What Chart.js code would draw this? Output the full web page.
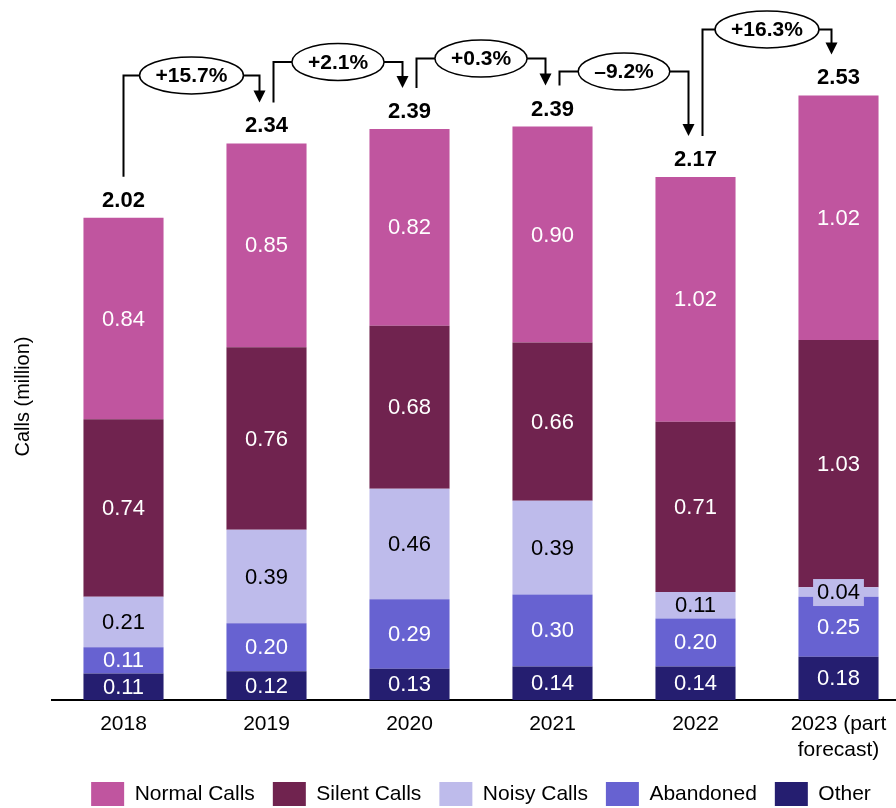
<!DOCTYPE html>
<html>
<head>
<meta charset="utf-8">
<script src="https://cdn.jsdelivr.net/npm/chart.js@4.4.0/dist/chart.umd.min.js"></script>
<style>
  html, body { margin: 0; padding: 0; background: #fff; overflow: hidden; }
  #callsChart { display: block; }
</style>
</head>
<body>
<canvas id="callsChart" width="910" height="816"></canvas>
<script>
// data
const years = ['2018', '2019', '2020', '2021', '2022', ['2023 (part', 'forecast)']];
const otherCalls = [0.11, 0.12, 0.13, 0.14, 0.14, 0.18];
const abandonedCalls = [0.11, 0.20, 0.29, 0.30, 0.20, 0.25];
const noisyCalls = [0.21, 0.39, 0.46, 0.39, 0.11, 0.04];
const silentCalls = [0.74, 0.76, 0.68, 0.66, 0.71, 1.03];
const normalCalls = [0.84, 0.85, 0.82, 0.90, 1.02, 1.02];
const totals = [2.02, 2.34, 2.39, 2.39, 2.17, 2.53];
const changes = ['+15.7%', '+2.1%', '+0.3%', '\u20139.2%', '+16.3%'];

const FONT = '"Liberation Sans", Arial, sans-serif';

// value in the middle of each segment
const segmentLabels = {
  id: 'segmentLabels',
  afterDatasetsDraw(chart) {
    const ctx = chart.ctx;
    ctx.save();
    ctx.font = '22px ' + FONT;
    ctx.textAlign = 'center';
    ctx.textBaseline = 'middle';
    chart.data.datasets.forEach((ds, di) => {
      const meta = chart.getDatasetMeta(di);
      meta.data.forEach((bar, i) => {
        const { x, y, base } = bar.getProps(['x', 'y', 'base'], true);
        const cy = (y + base) / 2;
        const txt = ds.data[i].toFixed(2);
        if (Math.abs(base - y) < 20) {
          // too thin: put a patch behind the text
          const w = ctx.measureText(txt).width + 8;
          ctx.fillStyle = ds.backgroundColor;
          ctx.fillRect(x - w / 2, cy - 13, w, 27);
        }
        ctx.fillStyle = ds.labelColor;
        ctx.fillText(txt, x, cy + 1);
      });
    });
    ctx.restore();
  }
};

// totals on top + year-on-year arrows
const changeArrows = {
  id: 'changeArrows',
  afterDatasetsDraw(chart, args, opts) {
    const ctx = chart.ctx;
    const last = chart.getDatasetMeta(chart.data.datasets.length - 1);
    const centers = last.data.map(b => b.x);
    const labelY = last.data.map(b => b.y - 17);
    const tipY = labelY.map(v => v - 24);

    ctx.save();
    ctx.fillStyle = '#000';
    ctx.strokeStyle = '#000';
    ctx.textAlign = 'center';
    ctx.textBaseline = 'middle';
    ctx.font = 'bold 22px ' + FONT;
    totals.forEach((t, i) => ctx.fillText(t.toFixed(2), centers[i], labelY[i]));

    ctx.font = 'bold 21px ' + FONT;
    changes.forEach((txt, i) => {
      const sx = centers[i] + (i ? 7 : 0);
      const ex = centers[i + 1] - 7;
      const level = Math.min(tipY[i], tipY[i + 1]) - opts.rise[i];
      ctx.lineWidth = 2;
      ctx.beginPath();
      ctx.moveTo(sx, tipY[i]);
      ctx.lineTo(sx, level);
      ctx.lineTo(ex, level);
      ctx.lineTo(ex, tipY[i + 1] - 11);
      ctx.stroke();
      ctx.beginPath();
      ctx.moveTo(ex - 6, tipY[i + 1] - 12);
      ctx.lineTo(ex + 6, tipY[i + 1] - 12);
      ctx.lineTo(ex, tipY[i + 1]);
      ctx.closePath();
      ctx.fill();

      const mx = (sx + ex) / 2;
      const rx = (ctx.measureText(txt).width + 32) / 2;
      ctx.beginPath();
      ctx.ellipse(mx, level, rx, 18.5, 0, 0, Math.PI * 2);
      ctx.fillStyle = '#fff';
      ctx.fill();
      ctx.lineWidth = 1.5;
      ctx.stroke();
      ctx.fillStyle = '#000';
      ctx.fillText(txt, mx, level + 1);
    });
    ctx.restore();
  }
};

new Chart(document.getElementById('callsChart'), {
  type: 'bar',
  data: {
    labels: years,
    datasets: [
      { label: 'Other', data: otherCalls, backgroundColor: '#251E70', labelColor: '#fff' },
      { label: 'Abandoned', data: abandonedCalls, backgroundColor: '#6762D1', labelColor: '#fff' },
      { label: 'Noisy Calls', data: noisyCalls, backgroundColor: '#BEBBEB', labelColor: '#000' },
      { label: 'Silent Calls', data: silentCalls, backgroundColor: '#70234F', labelColor: '#fff' },
      { label: 'Normal Calls', data: normalCalls, backgroundColor: '#C0559F', labelColor: '#fff' }
    ]
  },
  options: {
    responsive: false,
    animation: false,
    devicePixelRatio: 1,
    layout: { padding: { top: 93, left: 0, right: 0, bottom: 0 } },
    datasets: { bar: { categoryPercentage: 1, barPercentage: 0.56 } },
    scales: {
      x: {
        stacked: true,
        grid: { display: false, drawTicks: false },
        border: { display: true, color: '#000', width: 2 },
        ticks: { color: '#000', font: { family: FONT, size: 21, lineHeight: 1.25 }, padding: 11, maxRotation: 0, autoSkip: false },
        afterFit(scale) { scale.height = 64; }
      },
      y: {
        stacked: true,
        min: 0,
        max: 2.53,
        ticks: { display: false },
        grid: { display: false },
        border: { display: false },
        title: { display: true, text: 'Calls (million)', color: '#000', font: { family: FONT, size: 20 }, padding: { top: 11, bottom: 0 } },
        afterFit(scale) { scale.width = 52; }
      }
    },
    plugins: {
      legend: {
        position: 'bottom',
        reverse: true,
        fullSize: false,
        labels: { boxWidth: 33, boxHeight: 24, padding: 18, color: '#000', font: { family: FONT, size: 21 } }
      },
      tooltip: { enabled: false },
      changeArrows: { rise: [27, 26, 27, 14, 25] }
    }
  },
  plugins: [segmentLabels, changeArrows]
});
</script>
</body>
</html>
